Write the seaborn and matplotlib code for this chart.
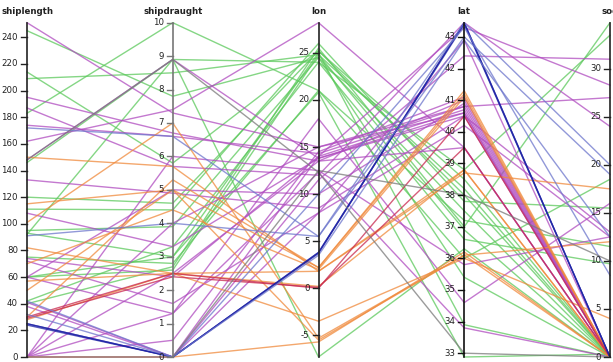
import numpy as np
import pandas as pd
import matplotlib
matplotlib.use("Agg")
import matplotlib.pyplot as plt
import seaborn as sns

# Vessel records: one polyline per ship across the five dimensions
dims = ["shiplength", "shipdraught", "lon", "lat", "sog"]

shiplength = [245, 214, 209, 183, 146, 120, 111, 95, 93, 75, 60, 40, 42, 92, 60,
              251, 195, 187, 174, 162, 133, 108, 74, 72, 60, 41, 38, 148, 0, 0, 0, 60, 0, 0, 0,
              150, 115, 101, 82, 70, 57, 50, 30, 28, 0,
              30, 29,
              25, 24, 25,
              172, 91, 42, 32,
              148, 0]
shipdraught = [7.8, 5.8, 8.5, 10.0, 8.9, 4.6, 4.4, 3.9, 3.0, 2.8, 2.6, 2.7, 3.3, 8.9, 3.0,
               7.3, 6.7, 5.7, 6.6, 7.4, 4.9, 3.3, 2.4, 1.6, 1.3, 0.0, 0.0, 8.9, 4.0, 2.5, 1.3, 5.0, 0.5, 6.0, 0.0,
               5.7, 5.0, 7.0, 2.5, 4.4, 2.5, 5.0, 5.3, 2.5, 0.0,
               2.5, 2.4,
               0.0, 0.0, 0.0,
               6.6, 4.0, 0.0, 0.0,
               8.9, 0.0]
lon = [24.5, 25.2, 24.8, 21.0, 24.0, 25.2, 26.0, 24.5, 25.0, 21.0, 24.8, 25.5, 24.0, -7.3, 20.8,
       15.0, 13.5, 12.0, 14.3, 28.2, 8.5, 13.8, 14.0, 8.0, 12.3, 14.0, 11.5, 13.8, 15.0, 13.5, 18.0, 10.0, 14.5, 12.5, 8.0,
       1.8, 2.2, -5.3, -3.5, 2.0, 1.8, -5.5, 2.2, 0.2, -5.7,
       0.0, 0.1,
       3.8, 3.8, 3.7,
       5.5, 5.5, 3.5, 10.0,
       12.3, 12.5]
lat = [37.5, 38.0, 36.9, 37.2, 36.6, 38.5, 37.8, 35.4, 33.9, 36.0, 38.2, 37.0, 38.8, 36.3, 32.88,
       40.6, 41.0, 43.45, 40.8, 39.5, 40.5, 40.5, 43.3, 40.2, 33.8, 40.7, 42.4, 40.6, 40.8, 39.5, 34.6, 40.9, 41.1, 35.8, 42.9,
       38.8, 41.3, 36.1, 36.0, 41.1, 38.7, 36.1, 41.2, 38.8, 36.2,
       40.5, 39.5,
       43.45, 43.4, 43.45,
       43.45, 43.0, 42.9, 43.3,
       33.0, 38.0]
sog = [0, 0, 0, 11.5, 9.7, 0, 15.5, 0, 0, 18.5, 0, 34.8, 33.5, 0, 0.3,
       0, 0, 24, 0, 0, 13, 0, 28.3, 12.5, 0, 0, 31, 0, 27, 0, 16, 0, 0, 12.5, 0,
       0, 0, 0, 4, 0, 17.5, 12, 0, 0, 0,
       0, 0,
       0, 0, 0,
       20, 19, 12.5, 8.5,
       0, 10]
shiptype = (["cargo"] * 15 + ["passenger"] * 20 + ["tanker"] * 10 +
            ["pleasure"] * 2 + ["fishing"] * 3 + ["tug"] * 4 + ["other"] * 2)

palette = {
    "cargo": "#5cc95c",
    "passenger": "#b04cc0",
    "tanker": "#f08a3c",
    "pleasure": "#c8284e",
    "fishing": "#1e22a6",
    "tug": "#6d76cc",
    "other": "#7a7a7a",
}

tick_step = [20, 1, 5, 1, 5]

df = pd.DataFrame({"shiplength": shiplength, "shipdraught": shipdraught,
                   "lon": lon, "lat": lat, "sog": sog, "type": shiptype})
df["id"] = np.arange(len(df))

# Each axis is scaled to the extent of its own values
domains = {d: (df[d].min(), df[d].max()) for d in dims}
norm = df.copy()
for d in dims:
    lo, hi = domains[d]
    norm[d] = (df[d] - lo) / (hi - lo)

long = norm.melt(id_vars=["id", "type"], value_vars=dims, var_name="dim", value_name="y")
long["x"] = long["dim"].map({d: i for i, d in enumerate(dims)})
long = long.sort_values(["id", "x"])

W, H = 613, 362
fig = plt.figure(figsize=(W / 100, H / 100), dpi=100)
x0, x1 = 27, 610
ytop, ybot = 22.7, 357
ax = fig.add_axes([x0 / W, (H - ybot) / H, (x1 - x0) / W, (ybot - ytop) / H])

sns.lineplot(data=long, x="x", y="y", hue="type", units="id", estimator=None,
             sort=False, palette=palette, legend=False, ax=ax,
             linewidth=1.0, alpha=0.75)
for ln in ax.get_lines():
    ln.set_clip_on(False)

ax.set_xlim(0, 4)
ax.set_ylim(0, 1)
ax.axis("off")

px = 4 / (x1 - x0)  # data units per pixel along x
axis_colors = ["#222222", "#777777", "#222222", "#111111", "#222222"]
for i, d in enumerate(dims):
    lo, hi = domains[d]
    ax.plot([i, i], [0, 1], color=axis_colors[i], lw=1.2, clip_on=False, zorder=5)
    step = tick_step[i]
    start = np.ceil(lo / step) * step
    for t in np.arange(start, hi + 1e-9, step):
        yy = (t - lo) / (hi - lo)
        ax.plot([i - 6 * px, i], [yy, yy], color=axis_colors[i], lw=1.0,
                clip_on=False, zorder=5)
        ax.text(i - 9 * px, yy, f"{t:g}", ha="right", va="center",
                fontsize=6.2, color="#222222", family="DejaVu Sans", zorder=6)
    fig.text((x0 + i * (x1 - x0) / 4) / W, (H - 12) / H, d, ha="center",
             va="center", fontsize=6.2, fontweight="bold", color="#222222",
             family="DejaVu Sans")

fig.savefig("out.png", dpi=100, facecolor="white")
